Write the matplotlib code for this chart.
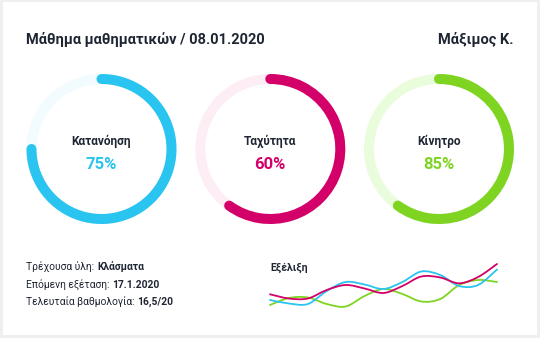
import matplotlib
matplotlib.use("Agg")
import matplotlib.pyplot as plt
import numpy as np
from matplotlib.patches import Arc, Circle, Rectangle
from matplotlib.path import Path
from matplotlib.patches import PathPatch

plt.rcParams['font.family'] = ['Roboto', 'DejaVu Sans']

# --- data ---
title = "Μάθημα μαθηματικών / 08.01.2020"
student = "Μάξιμος Κ."

ring_labels = ["Κατανόηση", "Ταχύτητα", "Κίνητρο"]
ring_percent = [75, 60, 85]          # numbers printed in the rings
ring_arc = [75, 60, 60]              # share of the ring that is drawn filled
ring_colors = ["#29c4ef", "#d4006a", "#7ed421"]
track_colors = ["#f2fbfe", "#fdeef5", "#e9fcdc"]

info_labels = ["Τρέχουσα ύλη: ", "Επόμενη εξέταση: ", "Τελευταία βαθμολογία: "]
info_values = ["Κλάσματα", "17.1.2020", "16,5/20"]

trend_title = "Εξέλιξη"
trend_x = list(range(13))
trend_cyan = [20, 16.5, 16, 29, 38, 35.5, 31, 38, 48.5, 45, 34, 35, 50.5]
trend_pink = [25.7, 21.5, 21.5, 30, 35, 31.5, 27, 34, 43.5, 42.5, 36.7, 43, 56]
trend_green = [15, 22, 22.5, 16, 13.5, 24, 31, 26, 18.5, 21, 35, 40, 38]

text_color = "#1f2633"

W, H = 540, 338
fig = plt.figure(figsize=(W / 100, H / 100), dpi=100, facecolor="#efeff1")
ax = fig.add_axes([0, 0, 1, 1])
ax.set_xlim(0, W)
ax.set_ylim(H, 0)
ax.axis("off")
ax.add_patch(Rectangle((3, 2), W - 6, H - 5, facecolor="white", edgecolor="none"))

# header
ax.text(26, 44, title, fontsize=10.5, fontweight="bold", color=text_color, va="baseline", ha="left")
ax.text(514, 44, student, fontsize=10.5, fontweight="bold", color=text_color, va="baseline", ha="right")

# rings
centers = [101.5, 270.3, 439]
cy = 149
r = 70
lw = 10 * 72 / 100
for cx, lab, pct, arcv, col, tcol in zip(centers, ring_labels, ring_percent, ring_arc, ring_colors, track_colors):
    ax.add_patch(Circle((cx, cy), r, fill=False, edgecolor=tcol, linewidth=lw))
    # y axis is inverted, so angles run clockwise on screen
    a = Arc((cx, cy), 2 * r, 2 * r, theta1=-90, theta2=-90 + 360 * arcv / 100,
            edgecolor=col, linewidth=lw)
    a.set_capstyle("round")
    ax.add_patch(a)
    ax.text(cx, 141, lab, fontsize=8.6, fontweight="bold", color=text_color, ha="center", va="center")
    ax.text(cx, 164.5, f"{pct}%", fontsize=12, fontweight="bold", color=col, ha="center", va="center")

# info lines: regular label followed by bold value
fig.canvas.draw()
renderer = fig.canvas.get_renderer()
for i, (lab, val) in enumerate(zip(info_labels, info_values)):
    y = 267 + i * 17.5
    t = ax.text(26.5, y, lab, fontsize=7.4, color=text_color, ha="left", va="center")
    bb = t.get_window_extent(renderer=renderer)
    x_end = ax.transData.inverted().transform((bb.x1, bb.y0))[0]
    ax.text(x_end, y, val, fontsize=7.4, fontweight="bold", color=text_color, ha="left", va="center")

ax.text(270, 268, trend_title, fontsize=7.5, fontweight="bold", color=text_color, ha="left", va="center")

# trend sparkline
sax = fig.add_axes([270 / W, (H - 310) / H, 227 / W, 48 / H])
sax.set_xlim(trend_x[0], trend_x[-1])
sax.set_ylim(10, 58)
sax.axis("off")


def smooth_path(xs, ys, tension=1.0):
    xs = np.asarray(xs, float)
    ys = np.asarray(ys, float)
    verts = [(xs[0], ys[0])]
    codes = [Path.MOVETO]
    n = len(xs)
    for i in range(n - 1):
        p0 = (xs[max(i - 1, 0)], ys[max(i - 1, 0)])
        p1 = (xs[i], ys[i])
        p2 = (xs[i + 1], ys[i + 1])
        p3 = (xs[min(i + 2, n - 1)], ys[min(i + 2, n - 1)])
        c1 = (p1[0] + (p2[0] - p0[0]) / 6 * tension, p1[1] + (p2[1] - p0[1]) / 6 * tension)
        c2 = (p2[0] - (p3[0] - p1[0]) / 6 * tension, p2[1] - (p3[1] - p1[1]) / 6 * tension)
        verts += [c1, c2, p2]
        codes += [Path.CURVE4] * 3
    return Path(verts, codes)


for ys, col in [(trend_green, ring_colors[2]), (trend_cyan, ring_colors[0]), (trend_pink, ring_colors[1])]:
    sax.add_patch(PathPatch(smooth_path(trend_x, ys), fill=False, edgecolor=col,
                            linewidth=1.3, clip_on=False, capstyle="round"))

fig.savefig("out.png", dpi=100, facecolor=fig.get_facecolor())
